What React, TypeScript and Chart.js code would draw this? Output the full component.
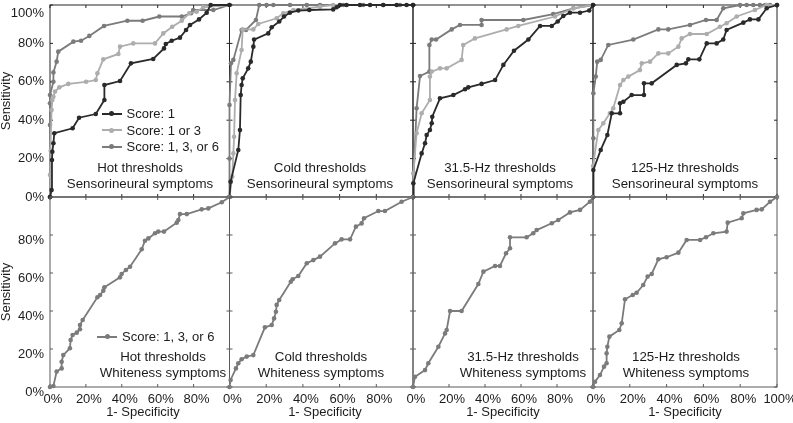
import React, { useEffect, useRef } from "react";
import { Chart, registerables } from "chart.js";
Chart.register(...registerables);

const FONT = "'Liberation Sans', Arial, Helvetica, sans-serif";
Chart.defaults.font.family = FONT;

// ---------- data (percent) ----------
const SERIES_LABELS = ["Score: 1", "Score: 1 or 3", "Score: 1, 3, or 6"];
const PANEL_THRESHOLDS = ["Hot thresholds", "Cold thresholds", "31.5-Hz thresholds", "125-Hz thresholds"];
const ROW_SYMPTOMS = ["Sensorineural symptoms", "Whiteness symptoms"];
const X_AXIS_TITLE = "1- Specificity";
const Y_AXIS_TITLE = "Sensitivity";
const X_TICK_VALUES = [0, 20, 40, 60, 80, 100];

// Hot, sensorineural
const HOT_S1_X = [0, 0.9, 1.1, 1.3, 1.9, 2.4, 12.6, 16.2, 25.5, 30.3, 30.3, 39, 45.1, 57.5, 63.5, 64.5, 67.8, 72.4, 75.8, 78, 83, 87.3, 89.5, 100];
const HOT_S1_Y = [0, 3.6, 19.3, 23.6, 28, 33.2, 35.8, 41.3, 43.2, 50.5, 58.3, 60.4, 69.6, 71.9, 77.4, 79.7, 81.4, 83, 87, 89.6, 92.5, 96, 100, 100];
const HOT_S13_X = [0, 0, 0.4, 0.9, 1.3, 1.9, 2.8, 5.2, 10.2, 20.1, 25.5, 26.4, 29.7, 38.1, 39, 46.4, 58.5, 63.1, 68.1, 73.4, 77.6, 81.7, 85.4, 100];
const HOT_S13_Y = [0, 11.5, 24, 45.3, 50.5, 52.2, 54.9, 57.1, 58.9, 60, 60.9, 64.4, 71.7, 74.5, 78.3, 80, 80, 85.2, 88.7, 91.8, 95.7, 96.5, 98.8, 100];
const HOT_S136_X = [0, 0, 0, 0, 1.9, 1.9, 3.7, 4.6, 13, 17.3, 21.9, 30.1, 43.1, 51.6, 60.9, 73.4, 78.6, 79.8, 91, 100];
const HOT_S136_Y = [0, 37.5, 48.8, 53.1, 60, 64.9, 70.5, 75.7, 80.9, 81.4, 83.9, 89.1, 91.8, 91.8, 94, 94, 95.7, 97.4, 97.4, 100];

// Cold, sensorineural
const COLD_S1_X = [0, 0.6, 4.8, 5.7, 6.1, 6.6, 7.2, 10.2, 11.6, 13, 13.4, 21.1, 23, 27.1, 29.7, 32.9, 37.5, 43.5, 56.5, 58.4, 60.2, 63.8, 71.1, 76.6, 83.8, 91.1, 96.5, 100];
const COLD_S1_Y = [0, 8, 24.5, 34.9, 53.1, 58.3, 61.8, 67, 70.5, 78.3, 82, 85.2, 88.4, 91.4, 94, 96, 97.1, 97.4, 97.7, 98.8, 100, 100, 100, 100, 100, 100, 100, 100];
const COLD_S13_X = [0, 1.5, 2.1, 2.5, 3.0, 3.9, 6.6, 7.2, 13, 15.7, 25.7, 29.3, 34.8, 49.3, 56.5, 100];
const COLD_S13_Y = [0, 10.6, 22.7, 31.4, 50.5, 64.4, 76.6, 87.3, 87.3, 90.1, 93.1, 95.7, 97.4, 99.1, 100, 100];
const COLD_S136_X = [0, 0, 0, 0.8, 2.1, 6.6, 9.0, 14.4, 16.2, 20.2, 23.9, 33, 42.1, 49.3, 62, 72.9, 83.8, 92.9, 100];
const COLD_S136_Y = [0, 20, 47.9, 69.6, 71.4, 87, 87, 92.2, 100, 100, 100, 100, 100, 100, 100, 100, 100, 100, 100];

// 31.5 Hz, sensorineural
const HZ31_S1_X = [0, 0.2, 4.8, 6.7, 7.6, 9.4, 10.4, 10.7, 15, 22.4, 28.9, 30.7, 38.1, 45.6, 50.2, 56.1, 64.1, 70.6, 77.1, 80.4, 83.5, 87.2, 92.8, 97.9, 100];
const HZ31_S1_Y = [0, 7.1, 22.7, 28, 32.3, 34.9, 38.4, 41.8, 51.4, 53.1, 56.1, 57.1, 58.9, 60.9, 68.8, 76.2, 82, 89.1, 89.1, 91.4, 94.3, 96, 96, 97.1, 100];
const HZ31_S13_X = [0, 0.2, 2, 4.8, 9.4, 9.4, 10.4, 15, 18.7, 27, 27.9, 34.4, 52, 58.5, 78.9, 89.1, 100];
const HZ31_S13_Y = [0, 12.3, 33.2, 43.6, 50.5, 62.7, 65.3, 67, 67, 71.4, 79.2, 82.6, 87.3, 89.1, 94, 98.3, 100];
const HZ31_S136_X = [0, 0.4, 2, 3.9, 9.1, 9.1, 10.4, 12.8, 21.5, 26.1, 38.1, 38.1, 61.3, 77.9, 89.1, 100];
const HZ31_S136_Y = [0, 12.3, 46.2, 63, 65.3, 79.2, 82, 82, 87.3, 89.6, 89.6, 92.2, 92.2, 95.3, 98.3, 100];

// 125 Hz, sensorineural
const HZ125_S1_X = [0, 0.2, 4.2, 7.8, 10.2, 14.7, 14.7, 16.5, 21, 27.7, 27.7, 31.9, 45.5, 50.5, 51.8, 57.8, 61.8, 67.2, 70.8, 72.6, 81.7, 85.3, 89.9, 94.4, 100];
const HZ125_S1_Y = [0, 14.1, 24.5, 32.3, 43.6, 43.6, 48.8, 49.6, 53.1, 53.1, 59.2, 59.2, 68.8, 69.6, 71.7, 71.7, 80, 80, 82, 87, 90.8, 92.5, 92.5, 98.3, 100];
const HZ125_S13_X = [0, 0, 2.9, 5.6, 9.2, 11, 14.7, 16.5, 19.2, 25.5, 26.5, 31, 35.5, 40.9, 46.4, 48.2, 52.7, 61.8, 69, 72.6, 78.1, 88, 94.4, 100];
const HZ125_S13_Y = [0, 16.1, 34.9, 38.4, 43.6, 46.2, 58.3, 60.9, 62.7, 66.1, 69.6, 70.5, 74.8, 74.8, 78.3, 82.6, 84.9, 84.9, 88.7, 90.5, 94, 97.4, 100, 100];
const HZ125_S136_X = [0, 0.2, 0.2, 1.5, 2.3, 4.2, 8.3, 21.9, 35.5, 40.9, 52.7, 61.4, 67.2, 70.8, 79.9, 83.5, 87.1, 90.7, 93.5, 96.2, 100];
const HZ125_S136_Y = [0, 30.6, 54, 62.7, 70.5, 71.4, 79.2, 82, 87.3, 87.3, 89.6, 92.2, 92.2, 98.3, 100, 100, 100, 100, 100, 100, 100];

// Whiteness symptoms, score 1, 3, or 6
const HOT_W_X = [0, 1.9, 3.7, 6.5, 6.5, 7.4, 11.1, 11.5, 12.6, 14.9, 16.7, 16.7, 18.2, 26.4, 27.9, 29.7, 30.3, 39, 39.9, 42.3, 44.6, 51.1, 52.9, 54.8, 58.5, 60.3, 63.5, 70.6, 71.5, 72.4, 76.2, 84.5, 88.2, 95.7, 100];
const HOT_W_Y = [0, 0.5, 8.1, 9.8, 13.3, 16.8, 20.4, 24.7, 27.4, 28.6, 30.4, 32.6, 35.3, 47.2, 48.4, 50.7, 52.5, 57.7, 59.5, 61.6, 63.3, 72.5, 77, 78.2, 80.9, 81.8, 81.8, 86.5, 87.9, 91, 91, 93.5, 94, 97.2, 100];
const COLD_W_X = [0, 0.6, 3.5, 4.8, 6.6, 9.4, 13, 19.3, 23, 24.3, 25.3, 25.7, 27.1, 33.4, 34.4, 37.5, 42.1, 45.7, 49.3, 57.5, 61.1, 65.7, 68.9, 72, 73.3, 81.1, 84.7, 93.8, 100];
const COLD_W_Y = [0, 3.7, 9.8, 12.5, 14.6, 16, 16.8, 31.4, 32.6, 36.1, 39.6, 43.2, 45.8, 55.4, 56.7, 58.4, 65.1, 66.8, 68.6, 75.6, 77.7, 77.7, 84.4, 86.1, 88.8, 92.6, 92.6, 97.5, 100];
const HZ31_W_X = [0, 1.1, 6.7, 8.5, 14.1, 17.8, 18.7, 20.6, 27, 36.3, 39.1, 45.6, 48.3, 51.7, 53.9, 53.9, 63.1, 66.8, 68.7, 77.1, 80.7, 87.2, 92.8, 98.3, 100];
const HZ31_W_Y = [0, 5.4, 8.9, 12.5, 21.2, 28.2, 30, 40, 40, 54.2, 60.7, 63.7, 63.7, 70.4, 73, 78.8, 78.8, 80.9, 82.6, 86.2, 87.9, 91.9, 93.2, 97.5, 100];
const HZ125_W_X = [0, 1.1, 3.8, 6, 7.4, 7.4, 7.8, 8.9, 14.3, 15.6, 17.4, 21.6, 23.7, 27.3, 29.7, 31.9, 35.5, 40, 46.4, 50.9, 58.2, 61.4, 65.4, 72.6, 73.2, 80.8, 81.7, 88.9, 91.7, 96.2, 100];
const HZ125_W_Y = [0, 2.8, 6.3, 10.7, 12.5, 17.7, 21.2, 26.5, 30, 33.5, 46.2, 48.4, 49.6, 53.7, 58.1, 59.5, 67.2, 68.3, 70.7, 77.4, 77.4, 78.8, 80.9, 81.8, 86.5, 88.8, 91.4, 93.2, 93.5, 97.5, 100];

// ---------- layout & style ----------
const FIG_W = 793;
const FIG_H = 423;
const COL_EDGES = [50, 229.5, 413, 593, 777];
const ROW_EDGES = [5, 197, 387];
const X_AXIS_H = 36;
const Y_AXIS_W = 50;
const DARK = "#2a2a2a";
const LIGHT = "#adadad";
const MID = "#7b7b7b";
const SERIES_COLORS = [DARK, LIGHT, MID];
const TEXT = "#1c1c1c";
const TITLE_CX = [[140, 320, 500, 685], [163, 321, 523, 686]];
const TITLE_Y = [168, 356.5];
const XTITLE_CX = [143, 325, 503, 685];
const XTITLE_Y = 411.5;

type Series = { xs: number[]; ys: number[]; color: string };
type Panel = { row: number; col: number; series: Series[] };

const sens = (x1: number[], y1: number[], x2: number[], y2: number[], x3: number[], y3: number[]): Series[] => [
  { xs: x1, ys: y1, color: SERIES_COLORS[0] },
  { xs: x2, ys: y2, color: SERIES_COLORS[1] },
  { xs: x3, ys: y3, color: SERIES_COLORS[2] },
];

const PANELS: Panel[] = [
  { row: 0, col: 0, series: sens(HOT_S1_X, HOT_S1_Y, HOT_S13_X, HOT_S13_Y, HOT_S136_X, HOT_S136_Y) },
  { row: 0, col: 1, series: sens(COLD_S1_X, COLD_S1_Y, COLD_S13_X, COLD_S13_Y, COLD_S136_X, COLD_S136_Y) },
  { row: 0, col: 2, series: sens(HZ31_S1_X, HZ31_S1_Y, HZ31_S13_X, HZ31_S13_Y, HZ31_S136_X, HZ31_S136_Y) },
  { row: 0, col: 3, series: sens(HZ125_S1_X, HZ125_S1_Y, HZ125_S13_X, HZ125_S13_Y, HZ125_S136_X, HZ125_S136_Y) },
  { row: 1, col: 0, series: [{ xs: HOT_W_X, ys: HOT_W_Y, color: MID }] },
  { row: 1, col: 1, series: [{ xs: COLD_W_X, ys: COLD_W_Y, color: MID }] },
  { row: 1, col: 2, series: [{ xs: HZ31_W_X, ys: HZ31_W_Y, color: MID }] },
  { row: 1, col: 3, series: [{ xs: HZ125_W_X, ys: HZ125_W_Y, color: MID }] },
];

const framePlugin = {
  id: "frame",
  beforeDatasetsDraw(chart: any, _args: any, opts: any) {
    const { ctx, chartArea: a, scales } = chart;
    ctx.save();
    ctx.strokeStyle = opts.color;
    ctx.lineWidth = 1;
    ctx.strokeRect(a.left, a.top, a.right - a.left, a.bottom - a.top);
    const L = 3;
    ctx.beginPath();
    scales.x.ticks.forEach((t: any) => {
      const px = scales.x.getPixelForValue(t.value);
      ctx.moveTo(px, a.bottom);
      ctx.lineTo(px, a.bottom - L);
      ctx.moveTo(px, a.top);
      ctx.lineTo(px, a.top + L);
    });
    scales.y.ticks.forEach((t: any) => {
      const py = scales.y.getPixelForValue(t.value);
      ctx.moveTo(a.left, py);
      ctx.lineTo(a.left + L, py);
      ctx.moveTo(a.right, py);
      ctx.lineTo(a.right - L, py);
    });
    ctx.stroke();
    ctx.restore();
  },
};

const topLabelPlugin = {
  id: "topLabel",
  beforeDraw(chart: any, _args: any, opts: any) {
    if (!opts || !opts.shift) return;
    const s = chart.scales.y;
    if (!s || !s.getLabelItems) return;
    const items = s.getLabelItems();
    items.forEach((it: any) => {
      if (it.label === "100%" && !it.__shifted) {
        it.options.translation[1] += opts.shift;
        it.__shifted = true;
      }
    });
  },
};

function PanelChart({ panel }: { panel: Panel }) {
  const ref = useRef<HTMLCanvasElement | null>(null);
  useEffect(() => {
    if (!ref.current) return;
    const { row, col } = panel;
    const padLeft = col === 0 ? 0 : COL_EDGES[col];
    const padRight = FIG_W - COL_EDGES[col + 1];
    const padTop = ROW_EDGES[row];
    const padBottom = row === 1 ? FIG_H - ROW_EDGES[2] - X_AXIS_H : FIG_H - ROW_EDGES[1];
    const chart = new Chart(ref.current, {
      type: "line",
      data: {
        datasets: panel.series.map((s) => ({
          data: s.xs.map((x, i) => ({ x, y: s.ys[i] })),
          borderColor: s.color,
          backgroundColor: s.color,
          pointBackgroundColor: s.color,
          pointBorderColor: s.color,
          pointRadius: 2.3,
          pointBorderWidth: 0,
          borderWidth: 1.8,
          tension: 0,
          fill: false,
          clip: 4,
        })),
      },
      options: {
        responsive: false,
        animation: false,
        events: [],
        layout: { padding: { left: padLeft, right: padRight, top: padTop, bottom: padBottom } },
        plugins: {
          legend: { display: false },
          tooltip: { enabled: false },
          frame: { color: row === 0 ? "#262626" : "#5a5a5a" },
          topLabel: { shift: row === 0 && col === 0 ? 8 : 0 },
        } as any,
        scales: {
          x: {
            type: "linear",
            min: 0,
            max: 100,
            afterBuildTicks: (s: any) => {
              s.ticks = X_TICK_VALUES.map((v) => ({ value: v }));
            },
            grid: { display: false, drawTicks: false },
            border: { display: false },
            ticks: {
              display: row === 1,
              autoSkip: false,
              maxRotation: 0,
              padding: 5,
              labelOffset: 3,
              color: TEXT,
              font: { size: 13 },
              callback: (v: any) => (v === 100 && col < 3 ? "" : v + "%"),
            },
            title: { display: false },
            afterFit: (s: any) => {
              s.height = row === 1 ? X_AXIS_H : 0;
              s.paddingLeft = 0;
              s.paddingRight = 0;
              s.paddingTop = 0;
              s.paddingBottom = 0;
            },
          },
          y: {
            type: "linear",
            min: 0,
            max: 100,
            afterBuildTicks: (s: any) => {
              s.ticks = X_TICK_VALUES.map((v) => ({ value: v }));
            },
            grid: { display: false, drawTicks: false },
            border: { display: false },
            ticks: {
              display: col === 0,
              autoSkip: false,
              padding: 6,
              labelOffset: row === 1 ? 5 : 0,
              color: TEXT,
              font: { size: 13 },
              callback: (v: any) => (v === 100 && row === 1 ? "" : v + "%"),
            },
            title: {
              display: col === 0,
              text: Y_AXIS_TITLE,
              color: TEXT,
              font: { size: 13, lineHeight: 1 },
              padding: { top: 0, bottom: 0 },
            },
            afterFit: (s: any) => {
              s.width = col === 0 ? Y_AXIS_W : 0;
              s.paddingLeft = 0;
              s.paddingRight = 0;
              s.paddingTop = 0;
              s.paddingBottom = 0;
            },
          },
        },
      } as any,
      plugins: [framePlugin, topLabelPlugin],
    });
    return () => chart.destroy();
  }, [panel]);
  return (
    <canvas
      ref={ref}
      width={FIG_W}
      height={FIG_H}
      style={{ position: "absolute", left: 0, top: 0, width: FIG_W, height: FIG_H }}
    />
  );
}

function PanelText({ row, col }: { row: number; col: number }) {
  const cx = TITLE_CX[row][col];
  return (
    <div
      style={{
        position: "absolute",
        left: cx - 110,
        width: 220,
        top: TITLE_Y[row] - 8,
        textAlign: "center",
        fontFamily: FONT,
        fontSize: 13.3,
        lineHeight: "16px",
        color: TEXT,
        whiteSpace: "nowrap",
      }}
    >
      <div>{PANEL_THRESHOLDS[col]}</div>
      <div>{ROW_SYMPTOMS[row]}</div>
    </div>
  );
}

function XTitle({ col }: { col: number }) {
  return (
    <div
      style={{
        position: "absolute",
        left: XTITLE_CX[col] - 60,
        width: 120,
        top: XTITLE_Y - 8,
        height: 16,
        lineHeight: "16px",
        textAlign: "center",
        fontFamily: FONT,
        fontSize: 13,
        color: TEXT,
        whiteSpace: "nowrap",
      }}
    >
      {X_AXIS_TITLE}
    </div>
  );
}

function LegendEntry({ x, y, color, label }: { x: number; y: number; color: string; label: string }) {
  return (
    <div
      style={{
        position: "absolute",
        left: x,
        top: y - 8,
        height: 16,
        display: "flex",
        alignItems: "center",
        fontFamily: FONT,
        fontSize: 13,
        color: TEXT,
        whiteSpace: "nowrap",
      }}
    >
      <span style={{ position: "relative", display: "inline-block", width: 20, height: 2, background: color }}>
        <span
          style={{
            position: "absolute",
            left: 7.5,
            top: -1.5,
            width: 5,
            height: 5,
            borderRadius: "50%",
            background: color,
          }}
        />
      </span>
      <span style={{ marginLeft: 5 }}>{label}</span>
    </div>
  );
}

export default function App() {
  return (
    <div style={{ position: "absolute", left: 0, top: 0, width: FIG_W, height: FIG_H, background: "#fff", overflow: "hidden" }}>
      {PANELS.map((p, i) => (
        <PanelChart key={i} panel={p} />
      ))}
      {PANELS.map((p, i) => (
        <PanelText key={"t" + i} row={p.row} col={p.col} />
      ))}
      {[0, 1, 2, 3].map((c) => (
        <XTitle key={"x" + c} col={c} />
      ))}
      <LegendEntry x={101.5} y={113.5} color={DARK} label={SERIES_LABELS[0]} />
      <LegendEntry x={101.5} y={130} color={LIGHT} label={SERIES_LABELS[1]} />
      <LegendEntry x={101.5} y={146.5} color={MID} label={SERIES_LABELS[2]} />
      <LegendEntry x={97} y={336.5} color={MID} label={SERIES_LABELS[2]} />
    </div>
  );
}
